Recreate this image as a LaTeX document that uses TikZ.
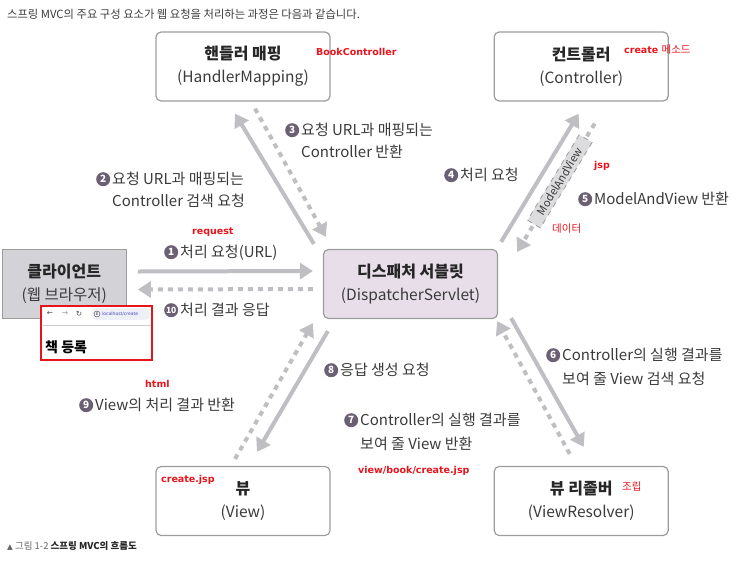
\documentclass[tikz,border=0pt]{standalone}
\usepackage{fontspec}
\setmainfont{Noto Sans CJK KR}
\newfontfamily\notefont{DejaVu Sans}
\newfontfamily\symfont{DejaVu Sans}
\usetikzlibrary{arrows.meta,positioning}

\definecolor{arrgray}{HTML}{BEBEC3}
\definecolor{boxgray}{HTML}{9C9C9C}
\definecolor{txtgray}{HTML}{3A3A3A}
\definecolor{numc}{HTML}{6B5F74}
\definecolor{clientfill}{HTML}{D3D3D7}
\definecolor{dsfill}{HTML}{E7DEEA}
\definecolor{annred}{HTML}{E8141C}
\definecolor{mavfill}{HTML}{DCDCDE}
\definecolor{urlfill}{HTML}{EEF0F8}

\newcommand\circnum[1]{\tikz[baseline={([yshift=-5.5pt]cn.center)}]
  \node[circle,fill=numc,text=white,inner sep=0pt,minimum size=14pt,
    font=\fontsize{10}{10}\selectfont\bfseries] (cn) {#1};}
\newcommand\stepnum[1]{\llap{\circnum{#1}\hspace{2pt}}}
\newcommand\boxttl[1]{{\fontsize{16}{23}\selectfont\bfseries\color{black!85}#1}}

\begin{document}
\begin{tikzpicture}[x=1pt,y=-1pt,
 every node/.style={text=txtgray,font=\fontsize{15}{22}\selectfont},
 box/.style={draw=boxgray,line width=1.2pt,rounded corners=5pt,fill=white,
   minimum width=174pt,minimum height=69pt,align=center,inner sep=0pt,
   font=\fontsize{15.5}{23}\selectfont},
 arr/.style={draw=arrgray,line width=4pt,-{Triangle[length=13pt,width=16pt]}},
 dsh/.style={arr,dash pattern=on 5pt off 5pt},
 lbl/.style={anchor=north west,align=left,inner sep=0pt},
 mav/.style={draw=boxgray,fill=mavfill,line width=0.8pt,minimum width=100pt,
   minimum height=15pt,inner sep=1pt,font=\fontsize{11}{12}\selectfont},
 note/.style={anchor=west,inner sep=0pt,text=annred,
   font=\notefont\fontsize{9.5}{12}\selectfont\bfseries},
 knote/.style={note,font=\fontsize{10.5}{12}\selectfont}]
\useasboundingbox (0,0) rectangle (749,560);

% heading line
\node[anchor=west,inner sep=0pt,font=\fontsize{11.3}{13}\selectfont] (title) at (7,14)
  {스프링 MVC의 주요 구성 요소가 웹 요청을 처리하는 과정은 다음과 같습니다.};

% components
\node[box,fill=dsfill] (ds) at (410.5,284) {\boxttl{디스패처 서블릿}\\(DispatcherServlet)};
\node[box] (hm) at (243,66.5) {\boxttl{핸들러 매핑}\\(HandlerMapping)};
\node[box,right=163pt of hm] (ctl) {\boxttl{컨트롤러}\\(Controller)};
\node[box] (vw) at (243,501) {\boxttl{뷰}\\(View)};
\node[box,right=163pt of vw] (vr) {\boxttl{뷰 리졸버}\\(ViewResolver)};
\node[box,rounded corners=0pt,fill=clientfill,minimum width=124pt,left=196pt of ds] (cl)
  {\boxttl{클라이언트}\\(웹 브라우저)};

% request flow
\draw[arr] ([shift={(11,-12.5)}]cl.east) -- ([shift={(-10,-13)}]ds.west);
\draw[dsh] ([shift={(-10,5)}]ds.west) -- ([shift={(11,5.5)}]cl.east);
\draw[arr] ([shift={(-9,-5)}]ds.north west) -- ([shift={(-8,12)}]hm.south);
\draw[dsh] ([shift={(12,7)}]hm.south) -- ([shift={(3,-12)}]ds.north west);
\draw[arr] ([shift={(3,-7)}]ds.north east) -- ([shift={(-2.5,12)}]ctl.south);
\draw[dsh] ([shift={(13.5,22)}]ctl.south) -- node[sloped,pos=0.45,mav] (mv) {ModelAndView}
  ([shift={(19,3)}]ds.north east);
\draw[arr] ([shift={(13,-1)}]ds.south east) -- ([shift={(2.5,-19)}]vr.north);
\draw[dsh] ([shift={(-11.5,-12)}]vr.north) -- ([shift={(-1,2)}]ds.south east);
\draw[arr] ([shift={(5,12)}]ds.south west) -- ([shift={(14,-14)}]vw.north);
\draw[dsh] ([shift={(-8,-7)}]vw.north) -- ([shift={(-10,4)}]ds.south west);

% step labels
\node[lbl] (l1) at (180,245) {\stepnum{1}처리 요청(URL)};
\node[lbl] (l10) at (180,303) {\stepnum{{\fontsize{8.5}{8}\selectfont 10}}처리 결과 응답};
\node[lbl] (l2) at (112,172) {\stepnum{2}요청 URL과 매핑되는\\Controller 검색 요청};
\node[lbl] (l3) at (301,123) {\stepnum{3}요청 URL과 매핑되는\\Controller 반환};
\node[lbl] (l4) at (460,168) {\stepnum{4}처리 요청};
\node[lbl] (l5) at (594,192) {\stepnum{5}ModelAndView 반환};
\node[lbl,font=\fontsize{15}{24}\selectfont] (l6) at (562,348) {\stepnum{6}Controller의 실행 결과를\\보여 줄 View 검색 요청};
\node[lbl,font=\fontsize{15}{24}\selectfont] (l7) at (360,413) {\stepnum{7}Controller의 실행 결과를\\보여 줄 View 반환};
\node[lbl] (l8) at (340,363) {\stepnum{8}응답 생성 요청};
\node[lbl] (l9) at (95,398) {\stepnum{9}View의 처리 결과 반환};

% red notes
\node[note] (nbook) at (316,52) {BookController};
\node[note] (ncreate) at (624,50) {create {\fontsize{10.5}{12}\selectfont\mdseries\rmfamily 메소드}};
\node[note] (njsp) at (594,166) {jsp};
\node[knote] (ndata) at (552,229) {데이터};
\node[note] (nreq) at (192,232) {request};
\node[note] (nhtml) at (145,384) {html};
\node[note] (ncjsp) at (161,480) {create.jsp};
\node[note] (npath) at (358,471) {view/book/create.jsp};
\node[knote] (nasm) at (622,487) {조립};

% browser shot
\node[draw=annred,line width=2pt,fill=white,minimum width=111pt,minimum height=54pt,
  inner sep=0pt] (shot) at (96.5,333) {};
\node[font=\symfont\fontsize{7.5}{8}\selectfont,text=black!70,inner sep=0pt] (back) at (50,314) {←};
\node[font=\symfont\fontsize{7.5}{8}\selectfont,text=black!40,inner sep=0pt] (fwd) at (65,314) {→};
\node[font=\symfont\fontsize{7.5}{8}\selectfont,text=black!70,inner sep=0pt] (reload) at (79,314) {↻};
\node[fill=urlfill,rounded corners=5pt,minimum width=58pt,minimum height=12pt,inner sep=0pt] (url) at (121,314) {};
\node[draw=black!75,circle,inner sep=0pt,minimum size=6pt,text=black,
  font=\symfont\fontsize{4}{4}\selectfont\bfseries] (info) at (97,314) {i};
\node[anchor=west,inner sep=0pt,font=\symfont\fontsize{4.5}{5}\selectfont,text=blue!45!gray] (urltext) at (102,314) {localhost/create};
\draw[black!20,line width=0.8pt] ([shift={(3,-8)}]shot.west) -- ([shift={(-2,-8)}]shot.east);
\node[anchor=west,inner sep=0pt,font=\fontsize{14}{16}\selectfont\bfseries,text=black] (page) at (45,347) {책 등록};

% caption
\node[anchor=west,inner sep=0pt,font=\fontsize{9.5}{11}\selectfont,text=black!60] (cap) at (7,546)
  {{\symfont\fontsize{7.5}{11}\selectfont ▲} 그림 1-2 {\color{black!85}\bfseries 스프링 MVC의 흐름도}};
\end{tikzpicture}
\end{document}
